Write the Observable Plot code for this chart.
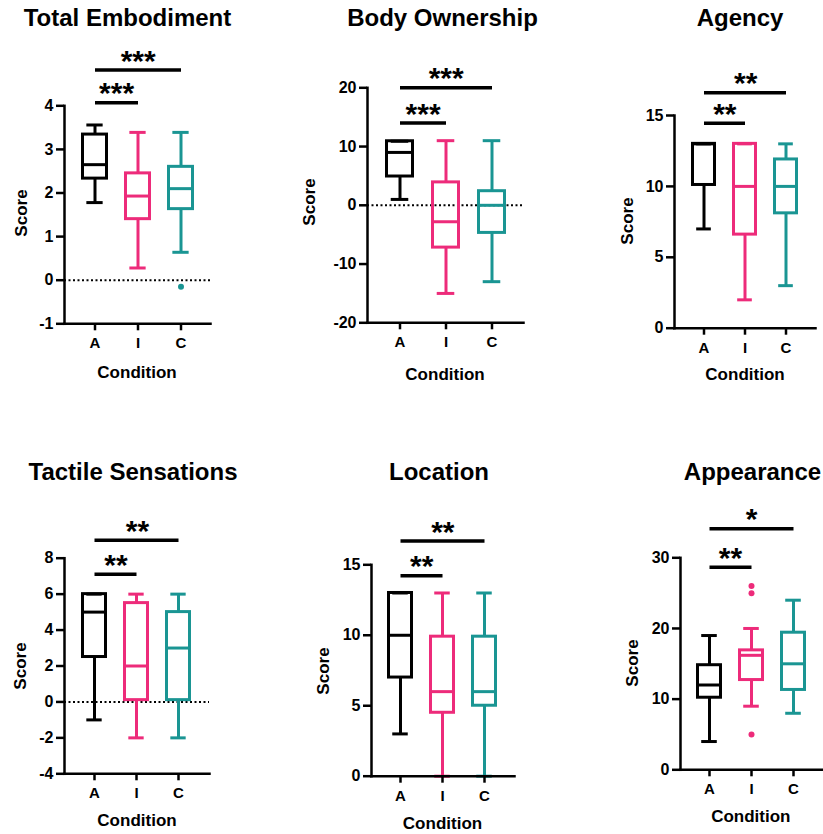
<!DOCTYPE html>
<html><head><meta charset="utf-8">
<script src="https://cdn.jsdelivr.net/npm/d3@7"></script>
<script src="https://cdn.jsdelivr.net/npm/@observablehq/plot@0.6"></script>
<style>
body{margin:0;background:#fff;}
#root{position:relative;width:823px;height:834px;overflow:hidden;font-family:"Liberation Sans",Arial,sans-serif;font-weight:bold;color:#000;}
.panel{position:absolute;}
.title{position:absolute;font-size:24px;line-height:24px;white-space:nowrap;transform:translateX(-50%);}
.ylab{position:absolute;font-size:17px;line-height:17px;white-space:nowrap;transform:translate(-50%,-50%) rotate(-90deg);}
.xlab{position:absolute;font-size:17px;line-height:17px;white-space:nowrap;transform:translate(-50%,-50%);}
#root svg g[aria-label="y-axis tick label"], #root svg g[aria-label="y-axis tick label"] text{font-size:16px !important;font-weight:bold;}
#root svg g[aria-label="x-axis tick label"], #root svg g[aria-label="x-axis tick label"] text{font-size:15px !important;font-weight:bold;}
</style></head><body><div id="root"></div>
<script>
// ---------- data ----------
const conditions = ["A", "I", "C"];
const conditionColors = ["#000000", "#ED2B7A", "#1A9593"];
const titles = ["Total Embodiment", "Body Ownership", "Agency", "Tactile Sensations", "Location", "Appearance"];
const yAxisLabel = "Score";
const xAxisLabel = "Condition";
const yTicks = [
  [-1, 0, 1, 2, 3, 4],
  [-20, -10, 0, 10, 20],
  [0, 5, 10, 15],
  [-4, -2, 0, 2, 4, 6, 8],
  [0, 5, 10, 15],
  [0, 10, 20, 30]
];
// box statistics per condition (A, I, C): [min, q1, median, q3, max]
const totalEmbodiment = [[1.78, 2.33, 2.65, 3.34, 3.56], [0.28, 1.40, 1.93, 2.45, 3.39], [0.64, 1.63, 2.10, 2.60, 3.39]];
const bodyOwnership = [[1, 4.9, 9, 10.9, 10.9], [-15, -7.2, -2.8, 3.9, 11], [-13, -4.7, 0, 2.4, 11]];
const agency = [[7, 10.1, 13, 13, 13], [2, 6.6, 10, 13, 13], [3, 8.1, 10, 11.9, 13]];
const tactileSensations = [[-1, 2.5, 5, 6, 6], [-2, 0.1, 2, 5.5, 6], [-2, 0.1, 3, 5, 6]];
const locationScores = [[3, 7, 10, 13, 13], [0, 4.5, 6, 9.9, 13], [0, 5, 6, 9.9, 13]];
const appearance = [[4, 10.2, 12, 14.8, 19], [9, 12.7, 16.2, 16.9, 20], [8, 11.3, 15, 19.4, 24]];
// outliers
const totalEmbodimentOutliers = [{condition: "C", value: -0.15}];
const appearanceOutliers = [{condition: "I", value: 26}, {condition: "I", value: 25}, {condition: "I", value: 5}];
// significance brackets: [from, to, level, label]
const totalEmbodimentSig = [["A", "I", 4.07, "***"], ["A", "C", 4.82, "***"]];
const bodyOwnershipSig = [["A", "I", 14, "***"], ["A", "C", 20, "***"]];
const agencySig = [["A", "I", 14.46, "**"], ["A", "C", 16.6, "**"]];
const tactileSig = [["A", "I", 7.1, "**"], ["A", "C", 9.0, "**"]];
const locationSig = [["A", "I", 14.22, "**"], ["A", "C", 16.68, "**"]];
const appearanceSig = [["A", "I", 28.65, "**"], ["A", "C", 34.1, "*"]];

const panelStats = [totalEmbodiment, bodyOwnership, agency, tactileSensations, locationScores, appearance];
const panelOutliers = [totalEmbodimentOutliers, [], [], [], [], appearanceOutliers];
const panelSig = [totalEmbodimentSig, bodyOwnershipSig, agencySig, tactileSig, locationSig, appearanceSig];

// ---------- layout (page pixels) ----------
const layout = [
  {left: 0,   top: 0,   w: 270, h: 390, axisX: 64,  xEnd: 210, yTopPx: 105.3, yBotPx: 323.3, zero: true,  titleX: 127.5, titleTop: 5.7,  ylab: [20.5, 213], xlab: [137, 371.5]},
  {left: 270, top: 0,   w: 270, h: 390, axisX: 367, xEnd: 523, yTopPx: 87.3,  yBotPx: 322.3, zero: true,  titleX: 442.5, titleTop: 5.7,  ylab: [309, 202],  xlab: [445, 374]},
  {left: 540, top: 0,   w: 283, h: 390, axisX: 674, xEnd: 815, yTopPx: 115,   yBotPx: 327.7, zero: false, titleX: 740,   titleTop: 5.7,  ylab: [627, 221],  xlab: [745, 373.5]},
  {left: 0,   top: 420, w: 270, h: 414, axisX: 64,  xEnd: 209, yTopPx: 557.7, yBotPx: 773.3, zero: true,  titleX: 133,   titleTop: 459.7, ylab: [20.3, 666], xlab: [137, 820]},
  {left: 270, top: 420, w: 270, h: 414, axisX: 371, xEnd: 514, yTopPx: 564.3, yBotPx: 775.7, zero: false, titleX: 439,   titleTop: 459.7, ylab: [323.3, 671], xlab: [442.5, 823]},
  {left: 540, top: 420, w: 283, h: 414, axisX: 680, xEnd: 822, yTopPx: 557.3, yBotPx: 769.3, zero: false, titleX: 752.5, titleTop: 459.7, ylab: [631.7, 663], xlab: [750.8, 816]}
];
const bandPadding = 0.38;
const font = '"Liberation Sans", Arial, sans-serif';

const root = document.getElementById("root");

function addText(cls, text, x, y) {
  const d = document.createElement("div");
  d.className = cls;
  d.textContent = text;
  d.style.left = x + "px";
  d.style.top = y + "px";
  root.appendChild(d);
}

panelStats.forEach((stats, i) => {
  const L = layout[i];
  const ticks = yTicks[i];
  const rows = stats.map((s, j) => ({condition: conditions[j], min: s[0], q1: s[1], median: s[2], q3: s[3], max: s[4]}));
  const sigRows = panelSig[i].map(([from, to, level, label]) => ({from, to, level, label}));
  const step = (L.xEnd - L.axisX) / (conditions.length + bandPadding);
  const capInset = step * (1 - bandPadding) * 0.2;
  const sw = 3;

  const marks = [];
  if (L.zero) marks.push(Plot.ruleY([0], {stroke: "#000", strokeWidth: 2, strokeDasharray: "2,2.5"}));
  marks.push(
    Plot.ruleX(rows, {x: "condition", y1: "min", y2: "q1", stroke: "condition", strokeWidth: sw}),
    Plot.ruleX(rows, {x: "condition", y1: "q3", y2: "max", stroke: "condition", strokeWidth: sw}),
    Plot.barY(rows, {x: "condition", y1: "q1", y2: "q3", fill: "none", stroke: "condition", strokeWidth: sw, insetLeft: 1.5, insetRight: 1.5}),
    Plot.tickY(rows, {x: "condition", y: "median", stroke: "condition", strokeWidth: sw, insetLeft: 1.5, insetRight: 1.5}),
    Plot.tickY(rows, {x: "condition", y: "min", stroke: "condition", strokeWidth: sw, insetLeft: capInset, insetRight: capInset}),
    Plot.tickY(rows, {x: "condition", y: "max", stroke: "condition", strokeWidth: sw, insetLeft: capInset, insetRight: capInset}),
    Plot.dot(panelOutliers[i], {x: "condition", y: "value", fill: "condition", r: 3}),
    Plot.link(sigRows, {x1: "from", x2: "to", y1: "level", y2: "level", stroke: "#000", strokeWidth: 3.5})
  );
  sigRows.forEach(s => {
    const di = conditions.indexOf(s.to) - conditions.indexOf(s.from);
    marks.push(Plot.text([s], {x: "from", y: "level", text: "label", dx: step * di / 2, dy: -9, fontSize: 30, fontWeight: "bold", fill: "#000"}));
  });
  marks.push(
    Plot.frame({anchor: "left", strokeWidth: 2.5}),
    Plot.frame({anchor: "bottom", strokeWidth: 2.5}),
    Plot.axisY(ticks, {tickSize: 8, tickPadding: 3, strokeWidth: 2.5, tickFormat: d => String(d), label: null, fontSize: 16, fontWeight: "bold"}),
    Plot.axisX({tickSize: 7, tickPadding: 7, strokeWidth: 2.5, label: null, fontSize: 15, fontWeight: "bold"})
  );

  const chart = Plot.plot({
    width: L.w,
    height: L.h,
    marginLeft: L.axisX - L.left,
    marginRight: L.left + L.w - L.xEnd,
    marginTop: L.yTopPx - L.top,
    marginBottom: L.top + L.h - L.yBotPx,
    style: {fontFamily: font, fontWeight: "bold", fontSize: "15px", background: "transparent", color: "#000", overflow: "visible"},
    x: {domain: conditions, padding: bandPadding, align: 0.5},
    y: {domain: [ticks[0], ticks[ticks.length - 1]]},
    color: {domain: conditions, range: conditionColors},
    marks
  });
  chart.classList.add("panel");
  chart.style.left = L.left + "px";
  chart.style.top = L.top + "px";
  root.appendChild(chart);

  addText("title", titles[i], L.titleX, L.titleTop);
  addText("ylab", yAxisLabel, L.ylab[0], L.ylab[1]);
  addText("xlab", xAxisLabel, L.xlab[0], L.xlab[1]);
});
</script>
</body></html>
